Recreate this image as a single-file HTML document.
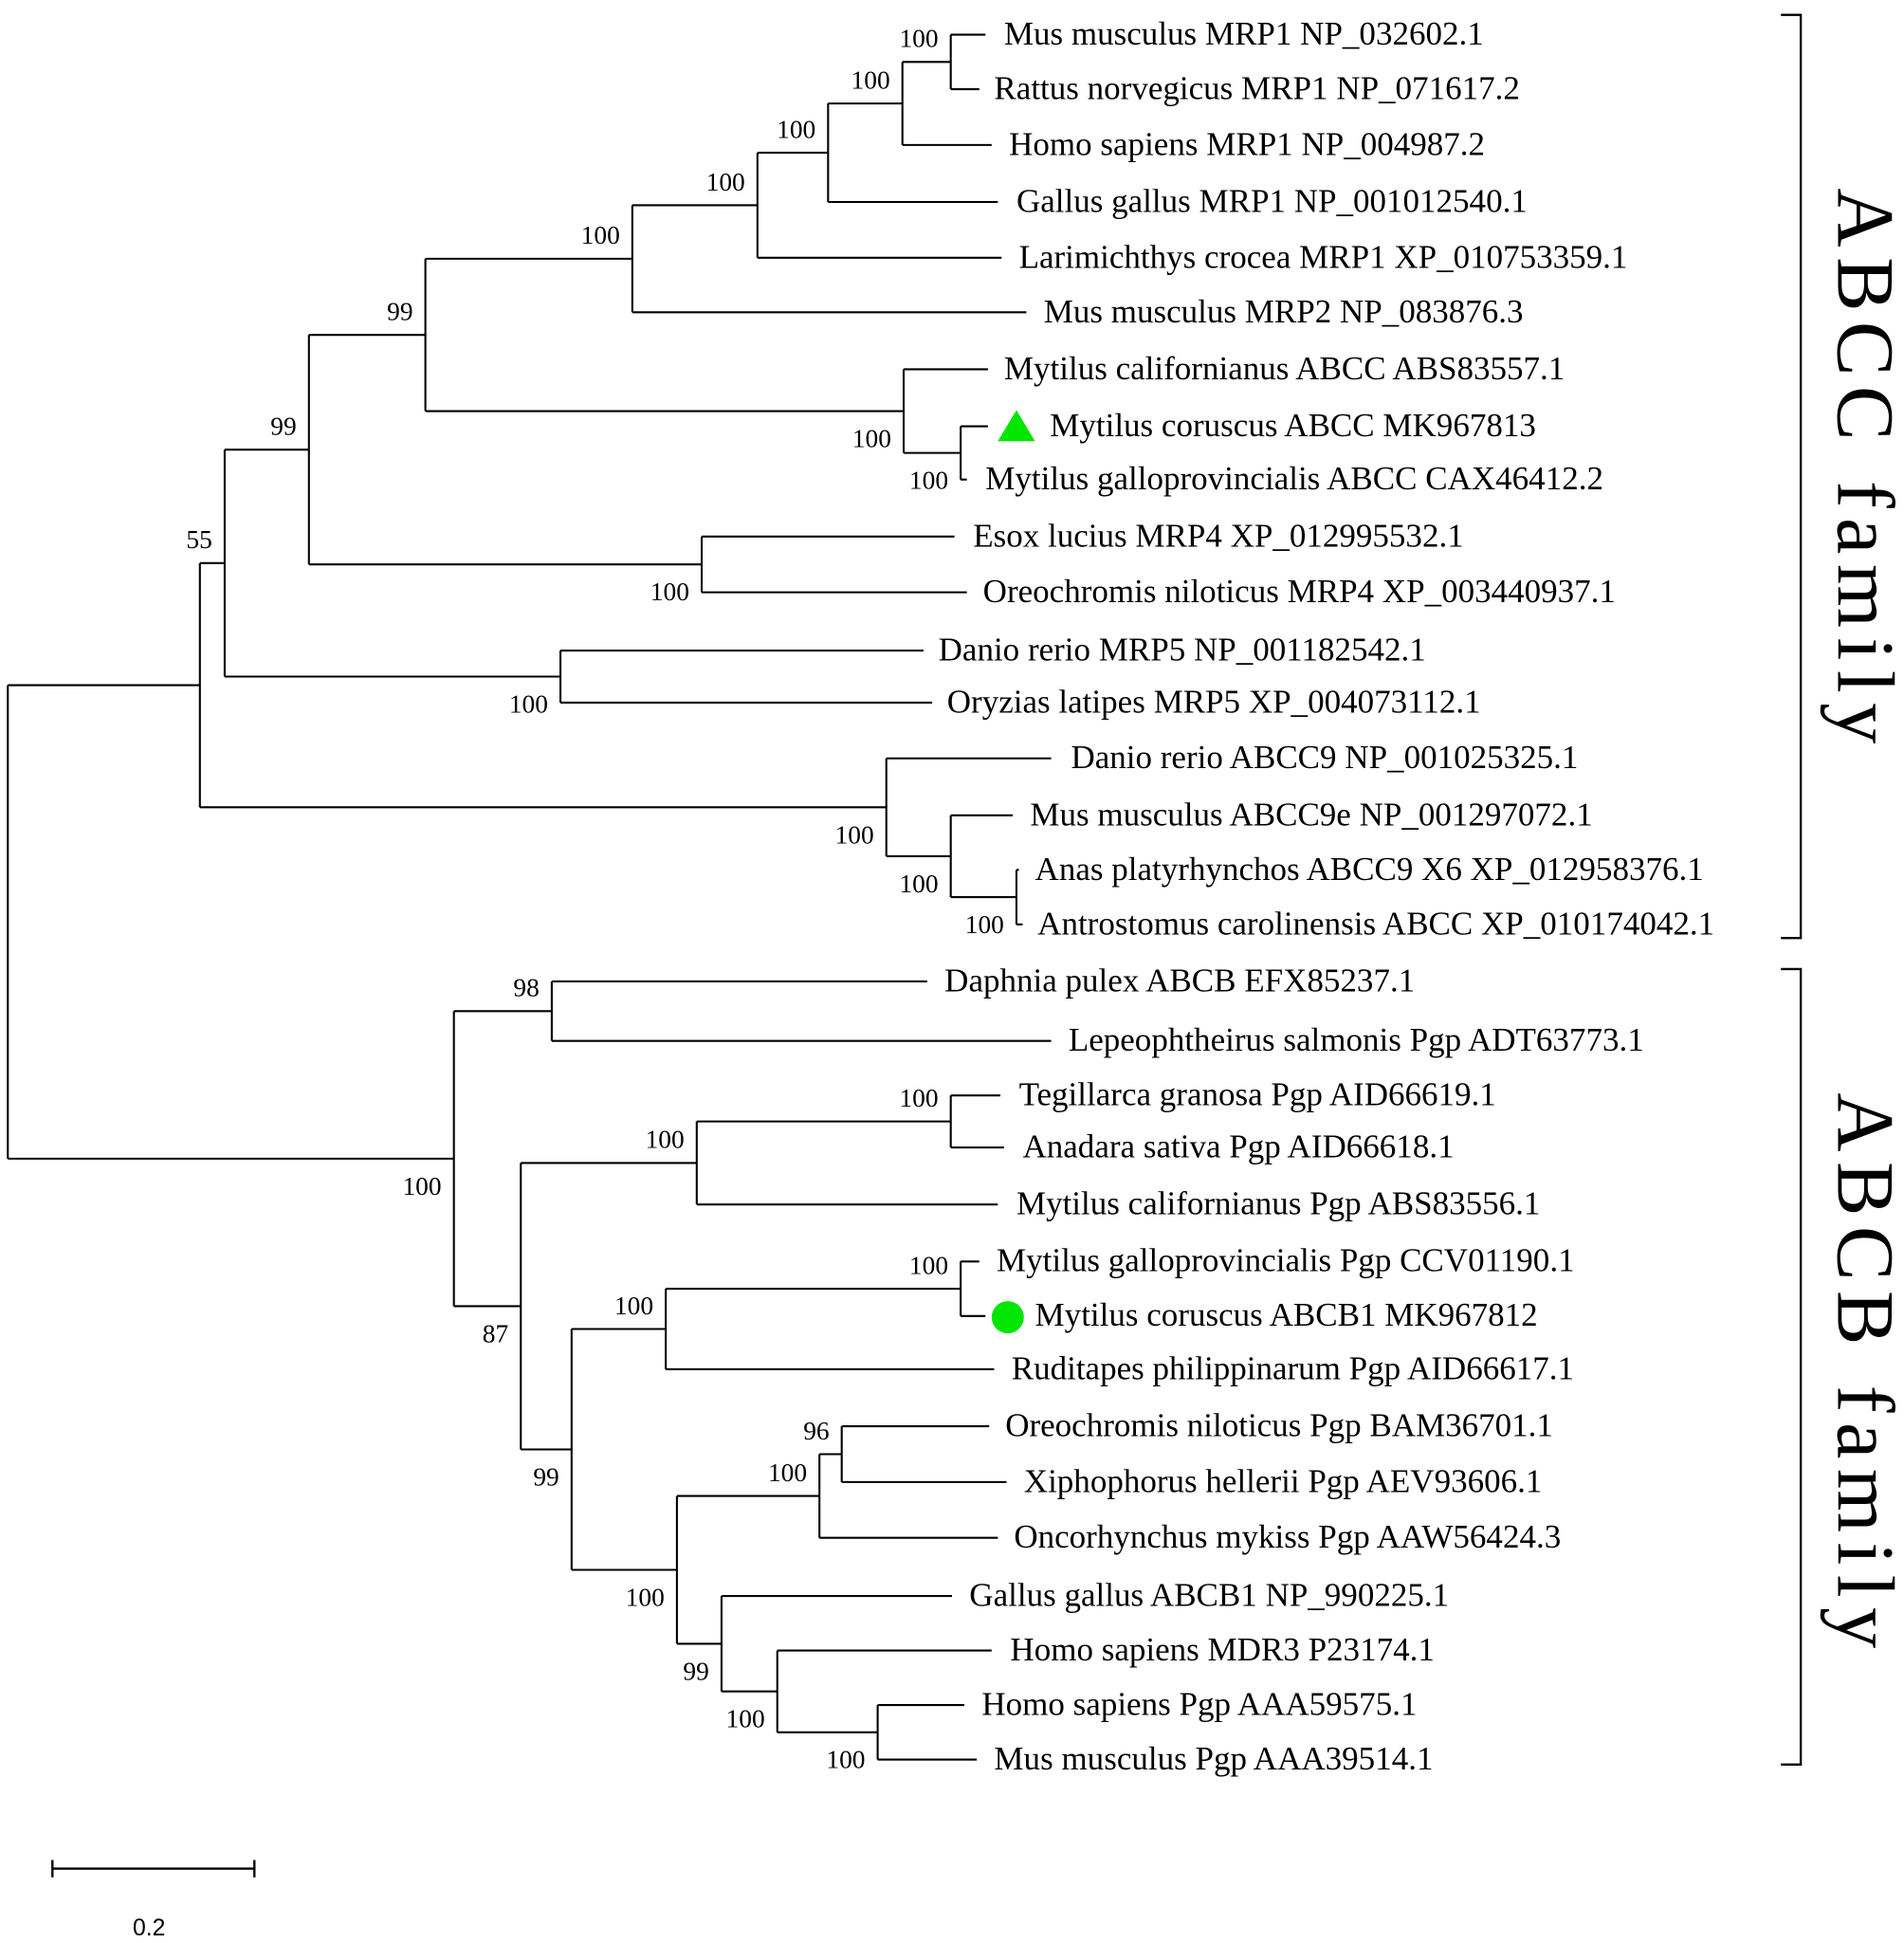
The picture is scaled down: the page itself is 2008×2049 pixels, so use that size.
<!DOCTYPE html>
<html><head><meta charset="utf-8"><style>
html,body{margin:0;padding:0;background:#fff}
svg{display:block}
</style></head><body>
<svg id="tree" width="2008" height="2049" viewBox="0 0 1536 1568" xmlns="http://www.w3.org/2000/svg">
<rect width="1536" height="1568" fill="#fff"/>
<g id="branches" stroke="#000" stroke-width="1.6" fill="none"></g>
<g id="labels" font-family="Liberation Serif, serif" fill="#000"></g>
<g id="boots" font-family="Liberation Serif, serif" font-size="21" fill="#000" text-anchor="end"></g>
<polygon points="820,331 805,356 835,356" fill="#00e600"/>
<circle cx="813" cy="1063" r="13" fill="#00e600"/>
<g stroke="#000" stroke-width="1.8" fill="none"><path d="M1437 12 H1453 V757 H1437"/></g>
<g stroke="#000" stroke-width="1.8" fill="none"><path d="M1437 782 H1453 V1424 H1437"/></g>
<text font-family="Liberation Serif, serif" font-size="66" letter-spacing="8" text-anchor="middle" transform="translate(1483,380) rotate(90)">ABCC family</text>
<text font-family="Liberation Serif, serif" font-size="66" letter-spacing="8" text-anchor="middle" transform="translate(1483,1110) rotate(90)">ABCB family</text>
<g stroke="#000" stroke-width="1.8"><path d="M42 1508 H205 M42 1501 V1515 M205 1501 V1515"/></g>
<text x="120" y="1562" font-family="Liberation Sans, sans-serif" font-size="19" text-anchor="middle">0.2</text>
</svg>
<script>
const leafNames = ["Mus musculus MRP1 NP_032602.1","Rattus norvegicus MRP1 NP_071617.2","Homo sapiens MRP1 NP_004987.2","Gallus gallus MRP1 NP_001012540.1","Larimichthys crocea MRP1 XP_010753359.1","Mus musculus MRP2 NP_083876.3","Mytilus californianus ABCC ABS83557.1","Mytilus coruscus ABCC MK967813","Mytilus galloprovincialis ABCC CAX46412.2","Esox lucius MRP4 XP_012995532.1","Oreochromis niloticus MRP4 XP_003440937.1","Danio rerio MRP5 NP_001182542.1","Oryzias latipes MRP5 XP_004073112.1","Danio rerio ABCC9 NP_001025325.1","Mus musculus ABCC9e NP_001297072.1","Anas platyrhynchos ABCC9 X6 XP_012958376.1","Antrostomus carolinensis ABCC XP_010174042.1","Daphnia pulex ABCB EFX85237.1","Lepeophtheirus salmonis Pgp ADT63773.1","Tegillarca granosa Pgp AID66619.1","Anadara sativa Pgp AID66618.1","Mytilus californianus Pgp ABS83556.1","Mytilus galloprovincialis Pgp CCV01190.1","Mytilus coruscus ABCB1 MK967812","Ruditapes philippinarum Pgp AID66617.1","Oreochromis niloticus Pgp BAM36701.1","Xiphophorus hellerii Pgp AEV93606.1","Oncorhynchus mykiss Pgp AAW56424.3","Gallus gallus ABCB1 NP_990225.1","Homo sapiens MDR3 P23174.1","Homo sapiens Pgp AAA59575.1","Mus musculus Pgp AAA39514.1"];
const leafDepth = [795,790,800,805,808,828,797,797,780,770,780,745,752,848,817,822,825,748,848,807,810,805,790,795,802,798,812,805,768,800,778,788];
const leafTextOffset = [15,12,14,15,14,14,13,50,15,15,13,12,12,16,14,13,12,14,14,15,15,15,14,40,14,13,14,13,14,15,14,14];
const leafRow = [28,72,117,163,208,252,298,344,387,433,478,525,567,612,658,702,746,792,840,884,926,972,1018,1062,1105,1151,1196,1241,1288,1332,1376,1420];
const nodeDepth = [767,728,668,611,510,775,729,343,566,249,452,181,820,767,715,161,445,767,562,775,537,679,661,708,627,582,546,461,420,366,6];
const nodeChildren = [["L0","L1"],["N0","L2"],["N1","L3"],["N2","L4"],["N3","L5"],["L7","L8"],["L6","N5"],["N4","N6"],["L9","L10"],["N7","N8"],["L11","L12"],["N9","N10"],["L15","L16"],["L14","N12"],["L13","N13"],["N11","N14"],["L17","L18"],["L19","L20"],["N17","L21"],["L22","L23"],["N19","L24"],["L25","L26"],["N21","L27"],["L30","L31"],["L29","N23"],["L28","N24"],["N22","N25"],["N20","N26"],["N18","N27"],["N16","N28"],["N15","N29"]];
const bootstrap = [100,100,100,100,100,100,100,99,100,99,100,55,100,100,100,null,98,100,100,100,100,96,100,100,100,99,100,99,87,100,null];
const bootPos = ["a","a","a","a","a","b","b","a","b","a","b","a","b","b","b","","a","a","a","a","a","a","a","b","b","b","b","b","b","b",""];

const NS="http://www.w3.org/2000/svg";
const gB=document.getElementById('branches'), gL=document.getElementById('labels'), gT=document.getElementById('boots');
const nodeY=[];
function yOf(id){const i=+id.slice(1);return id[0]==='L'?leafRow[i]:nodeY[i];}
function xOf(id){const i=+id.slice(1);return id[0]==='L'?leafDepth[i]:nodeDepth[i];}
function computeY(i){if(nodeY[i]!==undefined)return nodeY[i];const ys=nodeChildren[i].map(c=>c[0]==='N'?computeY(+c.slice(1)):leafRow[+c.slice(1)]);nodeY[i]=(Math.min(...ys)+Math.max(...ys))/2;return nodeY[i];}
for(let i=0;i<nodeDepth.length;i++)computeY(i);
for(let i=0;i<nodeDepth.length;i++){
  const x=nodeDepth[i];const ys=nodeChildren[i].map(yOf);
  const v=document.createElementNS(NS,'line');
  
  
  v.setAttribute('x1',x);v.setAttribute('x2',x);v.setAttribute('y1',Math.min(...ys));v.setAttribute('y2',Math.max(...ys));gB.appendChild(v);
  nodeChildren[i].forEach(c=>{const h=document.createElementNS(NS,'line');
    
    
    h.setAttribute('x1',x);h.setAttribute('x2',xOf(c));h.setAttribute('y1',yOf(c));h.setAttribute('y2',yOf(c));gB.appendChild(h);});
  if(bootstrap[i]!==null){const t=document.createElementNS(NS,'text');
    
    
    t.setAttribute('x',x-10);t.setAttribute('y',bootPos[i]==='a'?nodeY[i]-12:nodeY[i]+29);t.textContent=bootstrap[i];gT.appendChild(t);}
}
leafNames.forEach((n,i)=>{const t=document.createElementNS(NS,'text');
  
  
  t.setAttribute('x',leafDepth[i]+leafTextOffset[i]);t.setAttribute('y',leafRow[i]+8);t.setAttribute('font-size','26.8');t.textContent=n;gL.appendChild(t);});
</script>
</body></html>
